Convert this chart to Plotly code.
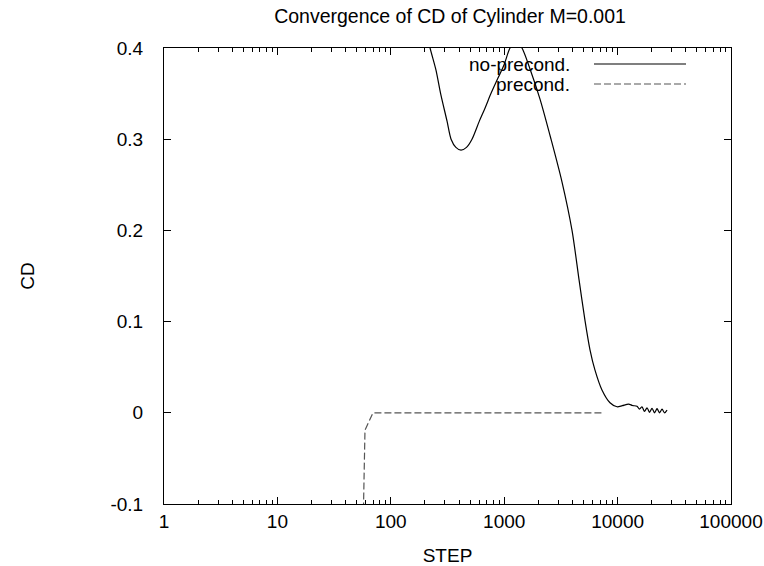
import plotly.graph_objects as go

# ---- data ----
steps_noprec = [150, 192, 222, 250, 275, 313, 340, 375, 416, 465, 520, 600, 677, 764,
                881, 1000, 1125, 1271, 1435, 1689, 2069, 2588, 3236, 3963, 4570, 5160,
                5710, 6310, 7280, 8570, 9880, 11000, 12500, 13500,
                14825, 15600, 16414, 17271, 18172, 19121, 20119, 21169, 22274, 23437,
                24660, 25947, 27301]
cd_noprec = [0.49, 0.435, 0.400, 0.376, 0.350, 0.320, 0.300, 0.291, 0.288, 0.291, 0.300,
             0.319, 0.334, 0.350, 0.367, 0.382, 0.400, 0.408, 0.400, 0.377, 0.344, 0.300,
             0.253, 0.200, 0.146, 0.101, 0.069, 0.047, 0.025, 0.011, 0.0066, 0.0078,
             0.0095, 0.008,
             0.0072, 0.004, 0.0065, 0.0015, 0.0055, 0.0005, 0.005, 0.0, 0.0045, 0.0,
             0.004, 0.0, 0.003]

steps_prec = [56.5, 59.2, 69.7, 100, 1000, 7300]
cd_prec = [-0.15, -0.019, 0.0, 0.0, 0.0, 0.0]

x_tickvals = [1, 10, 100, 1000, 10000, 100000]
x_ticktext = ["1", "10", "100", "1000", "10000", "100000"]
y_tickvals = [-0.1, 0.0, 0.1, 0.2, 0.3, 0.4]
y_ticktext = ["-0.1", "0", "0.1", "0.2", "0.3", "0.4"]

series_names = ["no-precond.", "precond."]

FONT = "Liberation Sans, Arial, Helvetica, sans-serif"
FS = 19

fig = go.Figure()
fig.add_trace(go.Scatter(x=steps_noprec, y=cd_noprec, mode="lines",
                         line=dict(color="black", width=1.2, shape="spline", smoothing=0.8),
                         name=series_names[0], showlegend=False, cliponaxis=True))
fig.add_trace(go.Scatter(x=steps_prec, y=cd_prec, mode="lines",
                         line=dict(color="#555555", width=1.2, dash="7px,3px"),
                         name=series_names[1], showlegend=False, cliponaxis=True))

W, H = 764, 566
L, R, T, B = 164, 731, 48, 504
pw, ph = R - L, B - T

def px(xp):
    return (xp - L) / pw

def py(yp):
    return (B - yp) / ph

# gnuplot-style key (text right-aligned, sample line to the right)
key_rows = [64, 84]
key_styles = [dict(color="black", width=1.2), dict(color="#555555", width=1.2, dash="7px,3px")]
for name, yrow, st in zip(series_names, key_rows, key_styles):
    fig.add_annotation(x=px(572), y=py(yrow), xref="paper", yref="paper",
                       text=name, showarrow=False, xanchor="right", yanchor="middle",
                       font=dict(family=FONT, size=FS, color="black"))
    fig.add_shape(type="line", xref="paper", yref="paper",
                  x0=px(594), x1=px(686), y0=py(yrow), y1=py(yrow), line=st)

axis_common = dict(showgrid=False, zeroline=False, showline=True, linecolor="black",
                   linewidth=1, mirror="allticks", ticks="inside", ticklen=7,
                   tickcolor="black", tickwidth=1, automargin=False,
                   tickfont=dict(family=FONT, size=FS, color="black"))

fig.update_layout(
    width=W, height=H,
    margin=dict(l=L, r=W - R, t=T, b=H - B, autoexpand=False),
    paper_bgcolor="white", plot_bgcolor="white",
    title=dict(text="Convergence of CD of Cylinder M=0.001", x=px(450), xref="paper",
               xanchor="center", y=1 - 16 / H, yanchor="middle", yref="container",
               font=dict(family=FONT, size=FS + 0.5, color="black")),
    xaxis=dict(type="log", range=[0, 5], tickvals=x_tickvals, ticktext=x_ticktext,
               minor=dict(ticks="inside", ticklen=4, dtick="D1", tickcolor="black", showgrid=False),
               ticklabelstandoff=0,
               title=dict(text="STEP", standoff=22, font=dict(family=FONT, size=FS, color="black")),
               **axis_common),
    yaxis=dict(range=[-0.1, 0.4], tickvals=y_tickvals, ticktext=y_ticktext,
               ticklabelstandoff=16,
               title=dict(text="CD", standoff=70, font=dict(family=FONT, size=FS, color="black")),
               **axis_common),
)

fig.write_html("out.html")
